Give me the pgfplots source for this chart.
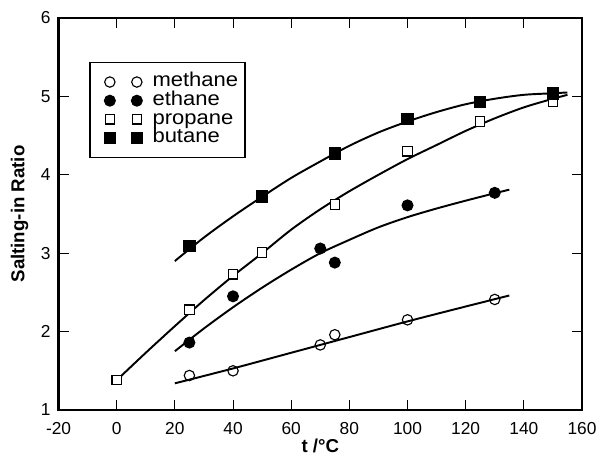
\documentclass[border=0pt]{standalone}
\usepackage{fontspec}
\setmainfont{Liberation Sans}
\newfontfamily\widefont[FakeStretch=1.1]{Liberation Sans}
\usepackage{pgfplots}
\pgfplotsset{compat=1.18}
\begin{document}
\begin{tikzpicture}
\begin{axis}[
  name=ax,
  scale only axis,
  width=392.6pt, height=294pt,
  xmin=-20, xmax=160, ymin=1, ymax=6,
  xtick={-20,0,...,160}, ytick={1,...,6},
  minor tick num=0,
  tick align=inside,
  xtick pos=both, ytick pos=both,
  xticklabel pos=lower, yticklabel pos=left,
  major tick length=7.5pt,
  tick style={line width=0.6pt, black},
  axis line style={line width=1.6pt},
  /pgf/number format/assume math mode=true,
  ticklabel style={font=\fontsize{13}{15}\selectfont},
  xticklabel style={yshift=-6pt},
  yticklabel style={xshift=-2.4pt},
  xlabel={t /°C},
  ylabel={Salting-in Ratio},
  label style={font=\fontsize{14}{16}\selectfont\bfseries},
  xlabel style={at={(axis description cs:0.5,-0.0918)}, anchor=center},
  ylabel style={at={(axis description cs:-0.0746,0.5)}, anchor=center},
  legend style={at={(axis description cs:0.0583,0.888)}, anchor=north west, draw=black, line width=1.2pt, inner xsep=4pt, inner ysep=8pt, font=\widefont\fontsize{15}{16}\selectfont, nodes={inner xsep=1pt, inner ysep=0pt, text height=10pt, text depth=3pt}, row sep=1pt},
  legend cell align=left,
  legend image code/.code={\path[draw=none] (-11pt,-4pt) rectangle (31pt,4pt); \draw[#1] plot coordinates {(0pt,0pt) (20.25pt,0pt)};},
]
% fitted curves
\addplot[black, smooth, line width=1.45pt, forget plot] coordinates {(20,1.34) (40,1.53) (60,1.73) (80,1.93) (100,2.13) (120,2.32) (135,2.46)};
\addplot[black, smooth, line width=1.45pt, forget plot] coordinates {(20,1.75) (30,2.04) (40,2.31) (50,2.56) (60,2.79) (70,3.00) (80,3.17) (90,3.33) (100,3.46) (110,3.57) (120,3.67) (130,3.765) (135,3.81)};
\addplot[black, smooth, line width=1.45pt, forget plot] coordinates {(0,1.38) (10,1.73) (20,2.07) (30,2.40) (40,2.71) (50,3.00) (60,3.30) (70,3.56) (80,3.79) (90,4.00) (100,4.20) (110,4.38) (120,4.56) (130,4.72) (140,4.86) (150,4.97) (155,5.02)};
\addplot[black, smooth, line width=1.45pt, forget plot] coordinates {(20,2.90) (30,3.20) (40,3.47) (50,3.72) (60,3.96) (70,4.17) (80,4.37) (90,4.54) (100,4.68) (110,4.80) (120,4.90) (130,4.97) (140,5.02) (150,5.04) (155,5.05)};
% data
\addplot[black, only marks, mark=o, mark size=3.9pt, line width=0.85pt, mark options={fill=white}] coordinates {(25,1.44) (40,1.50) (70,1.83) (75,1.96) (100,2.15) (130,2.41)};
\addlegendentry{methane}
\addplot[black, only marks, mark=*, mark size=4.1pt, line width=0.8pt] coordinates {(25,1.86) (40,2.45) (70,3.06) (75,2.88) (100,3.61) (130,3.77)};
\addlegendentry{ethane}
\addplot[black, only marks, mark=square*, mark size=3.5pt, line width=0.85pt, mark options={fill=white}] coordinates {(0,1.38) (25,2.28) (40,2.73) (50,3.01) (75,3.62) (100,4.30) (125,4.68) (150,4.93)};
\addlegendentry{propane}
\addplot[black, only marks, mark=square*, mark size=4.3pt, line width=0.8pt] coordinates {(25,3.09) (50,3.72) (75,4.27) (100,4.71) (125,4.93) (150,5.04)};
\addlegendentry{butane}
\end{axis}
\pgfresetboundingbox
\path ([shift={(-43.9pt,-34.5pt)}]ax.south west) rectangle ([shift={(10.5pt,13.5pt)}]ax.north east);
\end{tikzpicture}
\end{document}
